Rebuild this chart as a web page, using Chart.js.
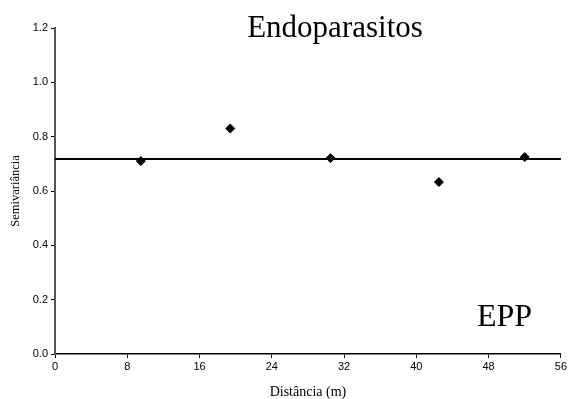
<!DOCTYPE html>
<html>
<head>
<meta charset="utf-8">
<script src="https://cdn.jsdelivr.net/npm/chart.js@4"></script>
<style>
  html, body { margin: 0; padding: 0; background: #fff; }
  #wrap { width: 569px; height: 399px; }
</style>
</head>
<body>
<div id="wrap"><canvas id="semivar" width="569" height="399"></canvas></div>
<script>
// semivariogram points
const distances = [9.5, 19.4, 30.5, 42.5, 52.0];
const semivariance = [0.710, 0.830, 0.721, 0.633, 0.725];
// fitted model (pure nugget, flat line)
const modelX = [0, 56];
const modelY = [0.718, 0.718];
const xTicks = [0, 8, 16, 24, 32, 40, 48, 56];
const yTicks = [0.0, 0.2, 0.4, 0.6, 0.8, 1.0, 1.2];

const titleText = 'Endoparasitos';
const tagText = 'EPP';

// big serif labels sitting inside the plot area
const labelsPlugin = {
  id: 'bigLabels',
  afterDraw(chart) {
    const { ctx } = chart;
    ctx.save();
    ctx.fillStyle = '#000';
    ctx.textBaseline = 'alphabetic';
    ctx.font = '31px "Liberation Serif", "DejaVu Serif", serif';
    ctx.textAlign = 'center';
    ctx.fillText(titleText, 335, 37);
    ctx.font = '32px "Liberation Serif", "DejaVu Serif", serif';
    ctx.textAlign = 'left';
    ctx.fillText(tagText, 477, 326);
    ctx.restore();
  }
};

const tickFont = { family: '"Liberation Sans", Arial, sans-serif', size: 11 };
const serif = '"Liberation Serif", "DejaVu Serif", serif';

new Chart(document.getElementById('semivar'), {
  type: 'scatter',
  data: {
    datasets: [
      {
        label: 'modelo',
        data: modelX.map((x, i) => ({ x, y: modelY[i] })),
        showLine: true,
        borderColor: '#000',
        borderWidth: 2,
        pointRadius: 0,
        order: 2,
      },
      {
        label: 'semivariância',
        data: distances.map((x, i) => ({ x, y: semivariance[i] })),
        pointStyle: 'rectRot',
        pointRadius: 4.5,
        backgroundColor: '#000',
        borderColor: '#000',
        order: 1,
      },
    ],
  },
  plugins: [labelsPlugin],
  options: {
    responsive: false,
    animation: false,
    layout: { padding: { top: 28, right: 6, left: 0, bottom: 0 } },
    plugins: { legend: { display: false }, tooltip: { enabled: false } },
    scales: {
      x: {
        type: 'linear',
        min: 0, max: 56,
        afterBuildTicks: (s) => { s.ticks = xTicks.map(v => ({ value: v })); },
        afterFit: (s) => { s.height = 45; },
        border: { color: '#000', width: 1.5 },
        grid: { drawOnChartArea: false, tickLength: 4, color: '#000' },
        ticks: { font: tickFont, color: '#000', padding: 2, maxRotation: 0 },
        title: { display: true, text: 'Distância (m)', font: { family: serif, size: 14, lineHeight: 1 }, color: '#000', padding: { top: 4, bottom: 0 } },
      },
      y: {
        type: 'linear',
        min: 0, max: 1.2,
        afterBuildTicks: (s) => { s.ticks = yTicks.map(v => ({ value: v })); },
        afterFit: (s) => { s.width = 55; },
        border: { color: '#555', width: 2 },
        grid: { drawOnChartArea: false, tickLength: 4, color: '#000' },
        ticks: { font: tickFont, color: '#000', padding: 3, callback: (v) => v.toFixed(1) },
        title: { display: true, text: 'Semivariância', font: { family: serif, size: 12.5 }, color: '#000', padding: { top: 8, bottom: 0 } },
      },
    },
  },
});
</script>
</body>
</html>
